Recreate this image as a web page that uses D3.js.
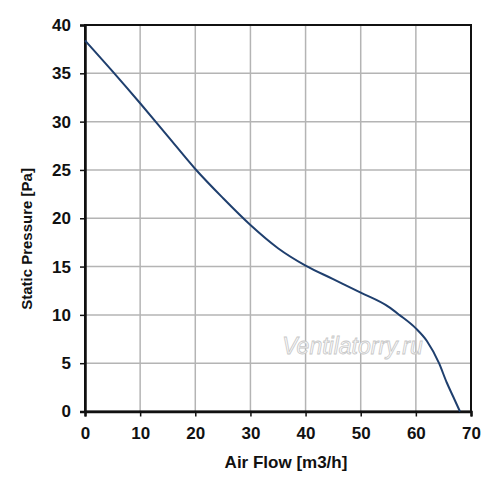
<!DOCTYPE html>
<html>
<head>
<meta charset="utf-8">
<script src="https://cdn.jsdelivr.net/npm/d3@7"></script>
<style>
    body { margin: 0; background: #fff; }
    svg { display: block; font-family: Arial, "Liberation Sans", sans-serif; }
</style>
</head>
<body>
<div id="chart"></div>
<script>
// curve
const airFlow  = [0, 5, 10, 15, 20, 25, 30, 35, 40, 45, 50, 55, 57, 60, 62, 64.2, 65.6, 66.8, 68];
const pressure = [38.4, 35.2, 31.9, 28.5, 25.1, 22.1, 19.3, 16.9, 15.1, 13.7, 12.3, 10.85, 10, 8.6, 7.3, 5, 3.0, 1.5, 0];
const xTicks = [0, 10, 20, 30, 40, 50, 60, 70];
const yTicks = [0, 5, 10, 15, 20, 25, 30, 35, 40];

const WIDTH = 500;
const HEIGHT = 483;
const margin = {top: 25, right: 29, bottom: 71.5, left: 85};
const width = WIDTH - margin.left - margin.right;
const height = HEIGHT - margin.top - margin.bottom;

const svg = d3.select("#chart").append("svg")
    .attr("width", WIDTH)
    .attr("height", HEIGHT);

const g = svg.append("g")
    .attr("transform", "translate(" + margin.left + "," + margin.top + ")");

const x = d3.scaleLinear().domain([0, 70]).range([0, width]);
const y = d3.scaleLinear().domain([0, 40]).range([height, 0]);

// grid
g.append("g")
    .selectAll("line")
    .data(xTicks.slice(1, -1))
    .enter().append("line")
        .attr("x1", d => x(d)).attr("x2", d => x(d))
        .attr("y1", 0).attr("y2", height)
        .attr("stroke", "#b4b4b4").attr("stroke-width", 1.5);
g.append("g")
    .selectAll("line")
    .data(yTicks.slice(1, -1))
    .enter().append("line")
        .attr("x1", 0).attr("x2", width)
        .attr("y1", d => y(d)).attr("y2", d => y(d))
        .attr("stroke", "#b4b4b4").attr("stroke-width", 1.5);

// watermark
g.append("text")
    .attr("x", x(48.5))
    .attr("y", y(6))
    .attr("text-anchor", "middle")
    .attr("font-size", 23)
    .attr("font-style", "italic")
    .attr("fill", "#fbfbfb")
    .attr("stroke", "#c8c8c8")
    .attr("stroke-width", 0.8)
    .text("Ventilatorry.ru");

// frame
g.append("rect")
    .attr("width", width).attr("height", height)
    .attr("fill", "none").attr("stroke", "#111").attr("stroke-width", 2);

// axes
const xAxis = g.append("g")
    .attr("transform", "translate(0," + height + ")")
    .call(d3.axisBottom(x).tickValues(xTicks).tickSize(5).tickPadding(10));
const yAxis = g.append("g")
    .call(d3.axisLeft(y).tickValues(yTicks).tickSize(5).tickPadding(9));

for (let axis of [xAxis, yAxis]) {
    axis.select(".domain").attr("stroke", "#111").attr("stroke-width", 2.5);
    axis.selectAll(".tick line").attr("stroke", "#111").attr("stroke-width", 1.5);
    axis.selectAll(".tick text")
        .attr("fill", "#111")
        .attr("font-size", 17)
        .attr("font-weight", "bold");
}

// curve
const line = d3.line()
    .x((d, i) => x(airFlow[i]))
    .y(d => y(d))
    .curve(d3.curveMonotoneX);
g.append("path")
    .datum(pressure)
    .attr("d", line)
    .attr("fill", "none")
    .attr("stroke", "#1f3f6e")
    .attr("stroke-width", 2);

// titles
svg.append("text")
    .attr("x", 286)
    .attr("y", 468)
    .attr("text-anchor", "middle")
    .attr("font-size", 17)
    .attr("font-weight", "bold")
    .attr("fill", "#111")
    .text("Air Flow [m3/h]");
svg.append("text")
    .attr("transform", "translate(32,239) rotate(-90)")
    .attr("text-anchor", "middle")
    .attr("font-size", 15)
    .attr("font-weight", "bold")
    .attr("fill", "#111")
    .text("Static Pressure [Pa]");
</script>
</body>
</html>
